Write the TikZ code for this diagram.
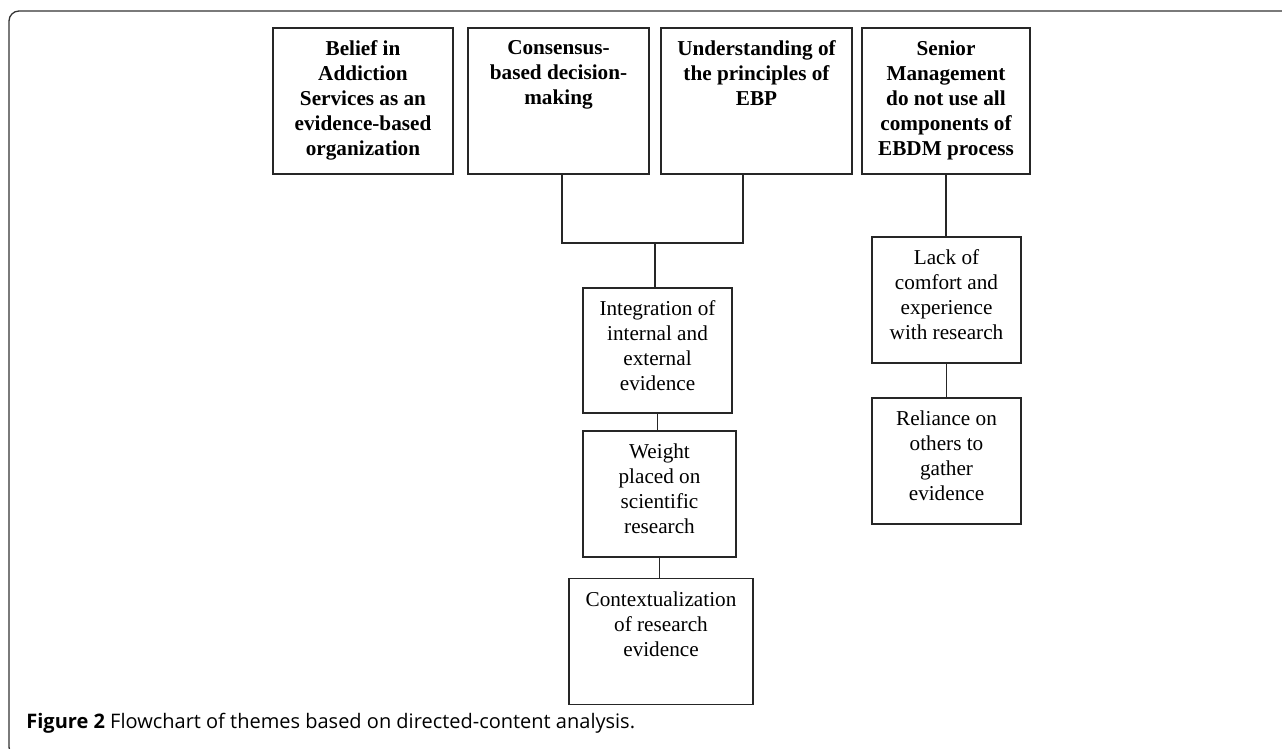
\documentclass[tikz,border=0pt]{standalone}
\usepackage{fontspec}
\setmainfont{Liberation Serif}
\setsansfont{Open Sans}
\usetikzlibrary{calc}

\begin{document}
\begin{tikzpicture}[x=0.5pt,y=-0.5pt,
    themebox/.style={draw=black!85,line width=0.6pt,inner sep=0pt,minimum height=63pt},
    boxtext/.style={anchor=north,align=center,inner sep=0pt,yshift=-6.5pt,
      font=\fontsize{10.6}{12.5}\selectfont},
    headtext/.style={boxtext,font=\fontsize{10.6}{12.5}\selectfont\bfseries},
    link/.style={draw=black!85,line width=0.55pt}]
    \useasboundingbox (0,0) rectangle (1282,749);
    % --- frame
    \draw[black!80,line width=0.65pt,rounded corners=5pt]
      (1282,11) -- (9,11) -- (9,757) -- (40,757);
    % --- top row of themes
    \node[themebox,minimum width=90pt,minimum height=73pt] (belief) at (363,101) {};
    \node[themebox,minimum width=90.5pt,minimum height=73pt] (consensus) at (558.5,101) {};
    \node[themebox,minimum width=95.5pt,minimum height=73pt] (principles) at (756.5,101) {};
    \node[themebox,minimum width=84pt,minimum height=73pt] (senior) at (946,101) {};
    \node[headtext] (belief-t) at (belief.north)
      {Belief in\\Addiction\\Services as an\\evidence-based\\organization};
    \node[headtext] (consensus-t) at (consensus.north)
      {Consensus-\\based decision-\\making};
    \node[headtext] (principles-t) at (principles.north)
      {Understanding of\\the principles of\\EBP};
    \node[headtext] (senior-t) at (senior.north)
      {Senior\\Management\\do not use all\\components of\\EBDM process};
    % --- left branch
    \node[themebox,minimum width=74.5pt,minimum height=62.5pt] (integration) at (657.5,350.5) {};
    \node[themebox,minimum width=76.5pt] (weight) at (659.5,494) {};
    \node[themebox,minimum width=92pt] (context) at (661,641.5) {};
    \node[boxtext] (integration-t) at (integration.north)
      {Integration of\\internal and\\external\\evidence};
    \node[boxtext] (weight-t) at (weight.north)
      {Weight\\placed on\\scientific\\research};
    \node[boxtext] (context-t) at (context.north)
      {Contextualization\\of research\\evidence};
    % --- right branch
    \node[themebox,minimum width=74.5pt] (comfort) at (946.5,300) {};
    \node[themebox,minimum width=74.5pt] (reliance) at (946.5,461) {};
    \node[boxtext] (comfort-t) at (comfort.north)
      {Lack of\\comfort and\\experience\\with research};
    \node[boxtext] (reliance-t) at (reliance.north)
      {Reliance on\\others to\\gather\\evidence};
    % --- connectors
    \coordinate (merge) at (655,243);
    \draw[link] ([xshift=1.75pt]consensus.south) |- (merge) -| ([xshift=-6.75pt]principles.south);
    \draw[link] (merge) -- (merge |- integration.north);
    \draw[link] (integration.south) -- (integration.south |- weight.north);
    \draw[link] (weight.south) -- (weight.south |- context.north);
    \draw[link] (senior.south) -- (senior.south |- comfort.north);
    \draw[link] (comfort.south) -- (comfort.south |- reliance.north);
    % --- caption
    \node[anchor=base west,inner sep=0pt,text=black,
      font=\sffamily\fontsize{10}{12}\selectfont] (caption) at (26,728)
      {\textbf{Figure 2} Flowchart of themes based on directed-content analysis.};
\end{tikzpicture}
\end{document}
